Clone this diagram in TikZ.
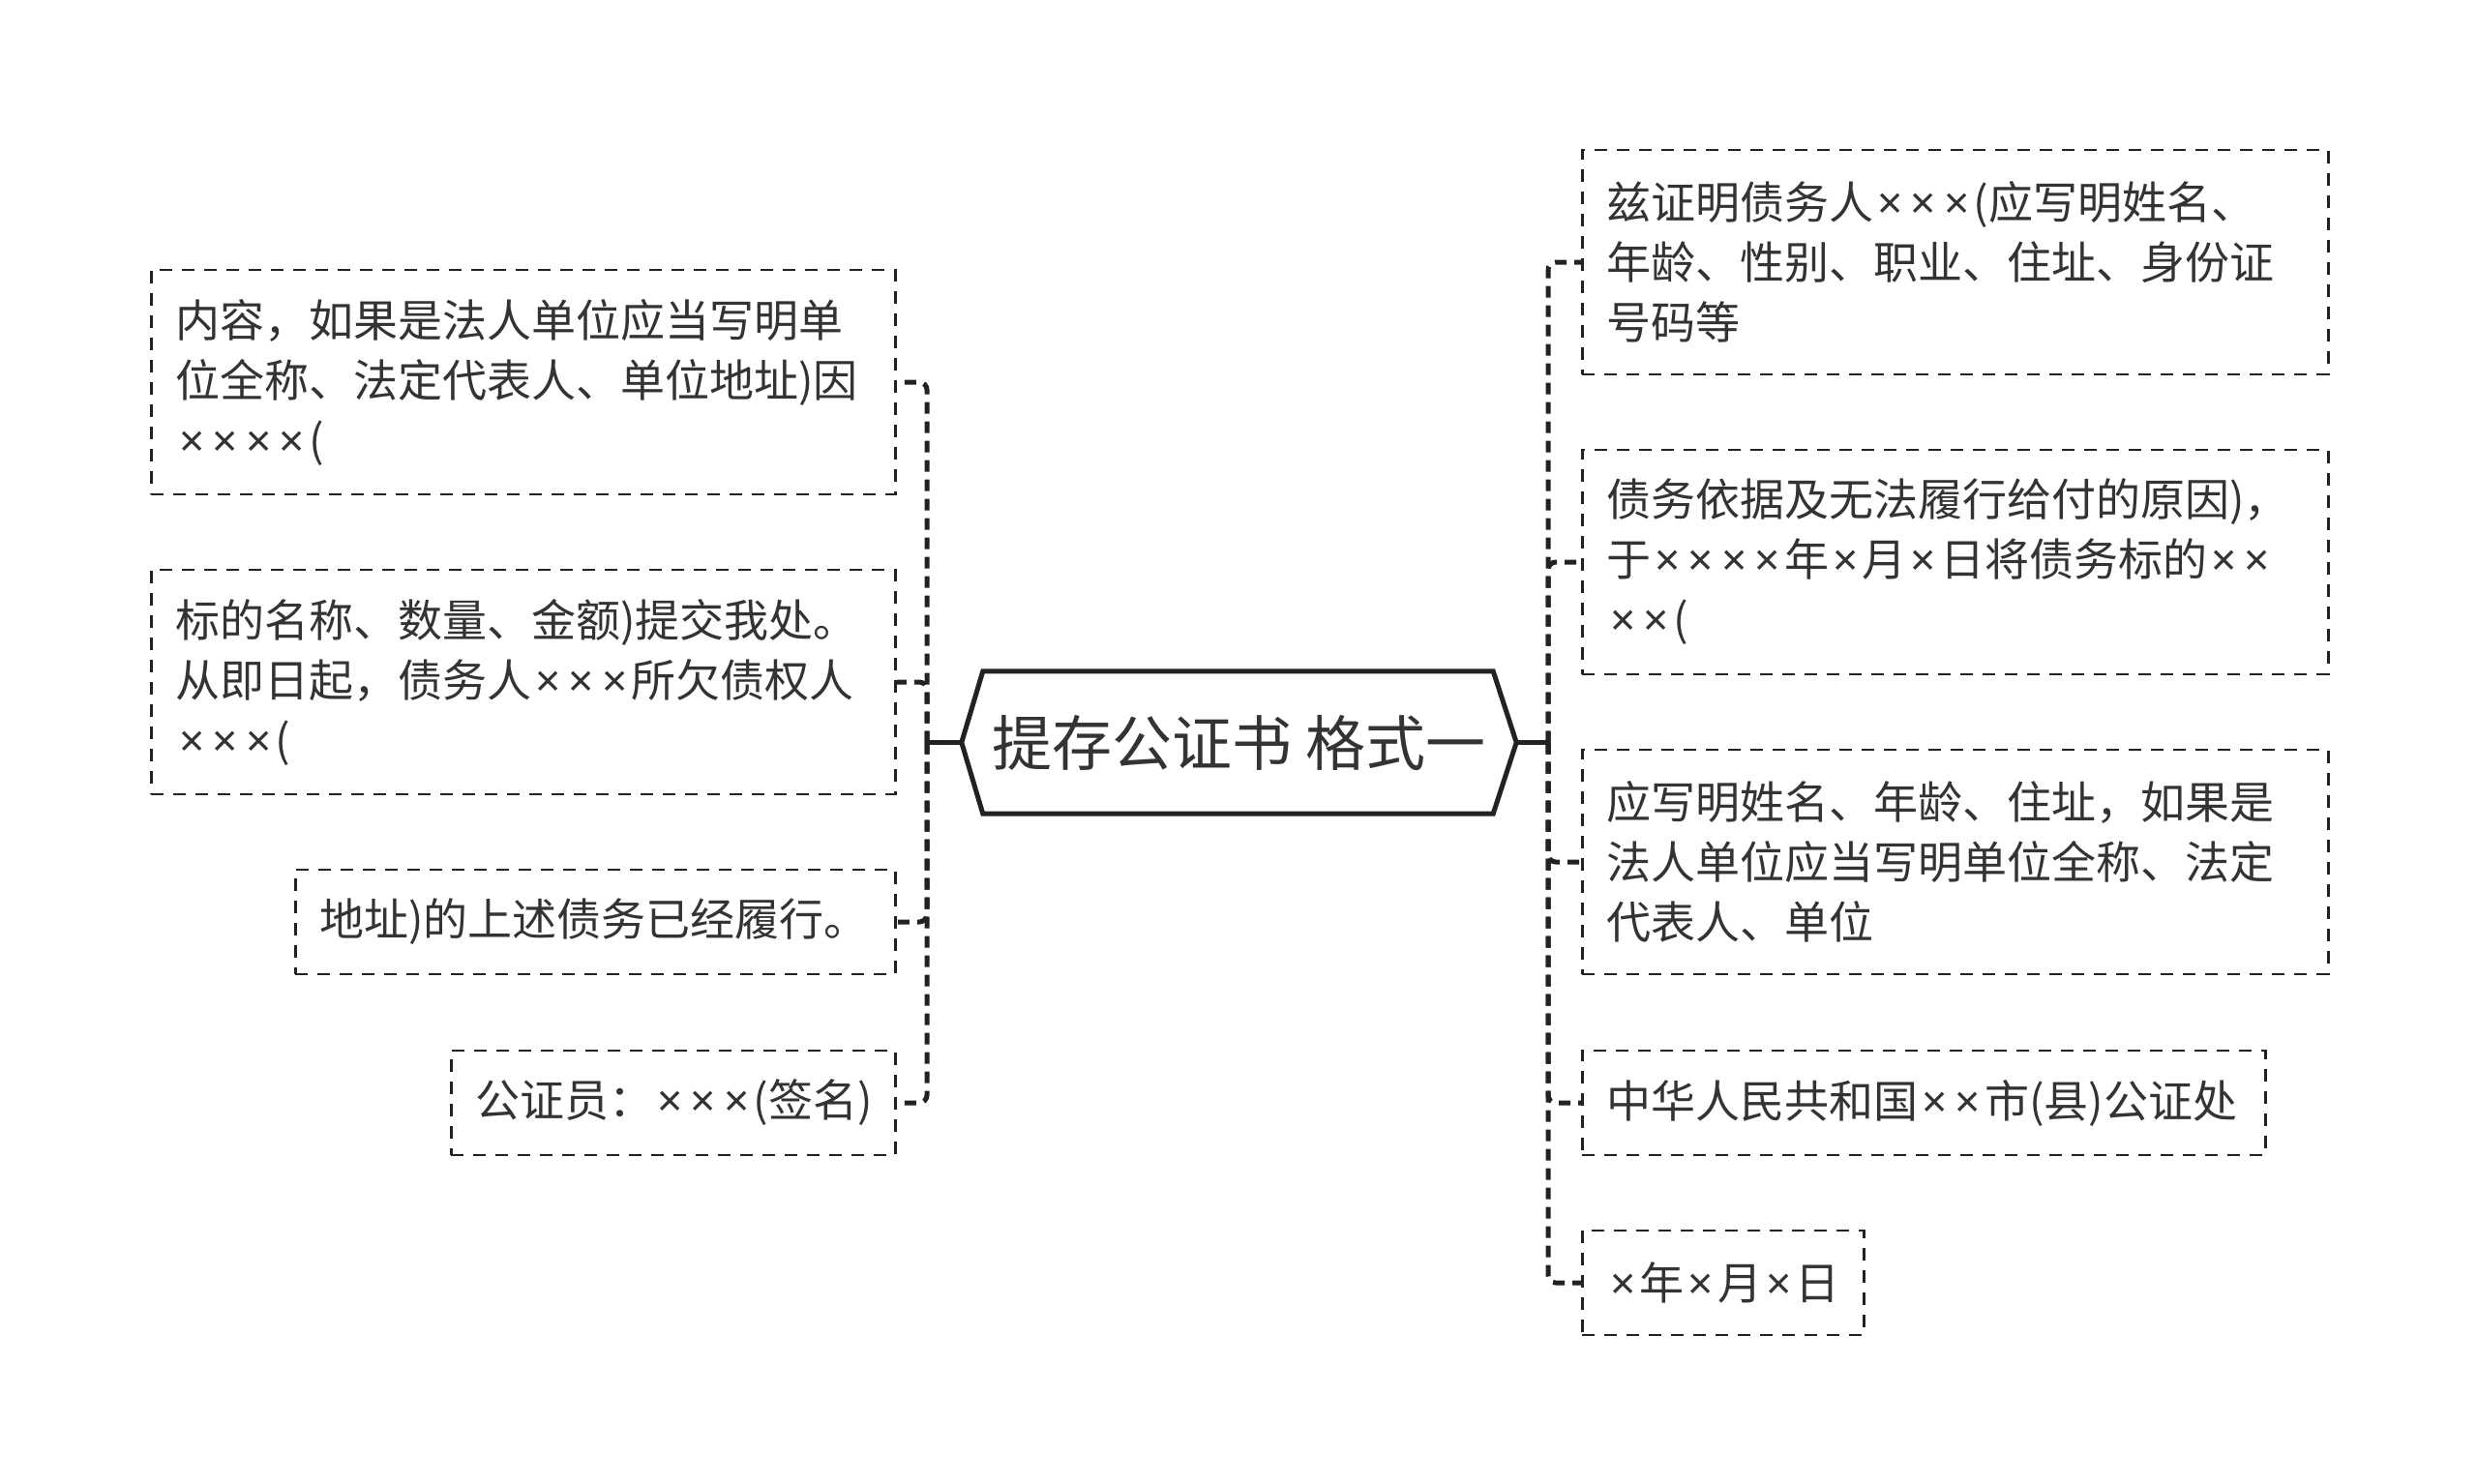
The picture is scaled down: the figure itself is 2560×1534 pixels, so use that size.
\documentclass[tikz,border=0pt]{standalone}
\usepackage{fontspec}
\setmainfont{Noto Sans CJK SC}
\newfontfamily\latfont{Noto Sans}
\newcommand\xx{\makebox[0.75em]{\latfont ×}}
\usetikzlibrary{calc}
\definecolor{ink}{HTML}{222222}
\definecolor{txt}{HTML}{333333}
\tikzset{
  leaf/.style={draw=ink, line width=2.5pt, dash pattern=on 13pt off 10pt,
    inner xsep=25pt, inner ysep=0pt, align=left, text=txt,
    font=\fontsize{46}{62}\selectfont},
  conn/.style={draw=ink, line width=5pt, dash pattern=on 12pt off 8pt, rounded corners=8pt},
  stub/.style={draw=ink, line width=5pt},
  hexline/.style={draw=ink, line width=5pt, line join=miter},
}
\begin{document}
\begin{tikzpicture}[x=1pt,y=-1pt]
\useasboundingbox (0,0) rectangle (2560,1534);
\fill[white] (0,0) rectangle (2560,1534);

% central node
\node[minimum width=573pt, minimum height=147pt, inner sep=0pt, text=txt,
  font=\fontsize{62}{70}\selectfont] (c) at (1280.5,767.5) {提存公证书 格式一};
\draw[hexline] (c.west) -- ($(c.north west)+(22,0)$) -- ($(c.north east)+(-24,0)$)
  -- (c.east) -- ($(c.south east)+(-24,0)$) -- ($(c.south west)+(22,0)$) -- cycle;

\coordinate (lt) at (958,767.5);
\coordinate (rt) at (1600,767.5);

% left boxes
\node[leaf, anchor=west, text width=719pt, minimum height=232pt] (L1) at (155,395)
  {内容，如果是法人单位应当写明单\\位全称、法定代表人、单位地址)因\\\xx{}\xx{}\xx{}\xx{}(};
\node[leaf, anchor=west, text width=719pt, minimum height=232pt] (L2) at (155,705)
  {标的名称、数量、金额)提交我处。\\从即日起，债务人\xx{}\xx{}\xx{}所欠债权人\\\xx{}\xx{}\xx{}(};
\node[leaf, anchor=west, text width=570pt, minimum height=108pt] (L3) at (304,953)
  {地址)的上述债务已经履行。};
\node[leaf, anchor=west, text width=409pt, minimum height=108pt] (L4) at (465,1140)
  {公证员：\xx{}\xx{}\xx{}(签名)};

% right boxes
\node[leaf, anchor=west, text width=721pt, minimum height=232pt] (R1) at (1634,271)
  {兹证明债务人\xx{}\xx{}\xx{}(应写明姓名、\\年龄、性别、职业、住址、身份证\\号码等};
\node[leaf, anchor=west, text width=721pt, minimum height=232pt] (R2) at (1634,581)
  {债务依据及无法履行给付的原因)，\\于\xx{}\xx{}\xx{}\xx{}年\xx{}月\xx{}日将债务标的\xx{}\xx{}\\\xx{}\xx{}(};
\node[leaf, anchor=west, text width=721pt, minimum height=232pt] (R3) at (1634,891)
  {应写明姓名、年龄、住址，如果是\\法人单位应当写明单位全称、法定\\代表人、单位};
\node[leaf, anchor=west, text width=656pt, minimum height=108pt] (R4) at (1634,1140)
  {中华人民共和国\xx{}\xx{}市(县)公证处};
\node[leaf, anchor=west, text width=241pt, minimum height=108pt] (R5) at (1634,1326)
  {\xx{}年\xx{}月\xx{}日};

% stubs
\draw[stub] (c.west) -- (lt);
\draw[stub] (c.east) -- (rt);

% connectors
\foreach \n in {L1,L2,L3,L4} \draw[conn] (lt) |- (\n.east);
\foreach \n in {R1,R2,R3,R4,R5} \draw[conn] (rt) |- (\n.west);
\end{tikzpicture}
\end{document}
